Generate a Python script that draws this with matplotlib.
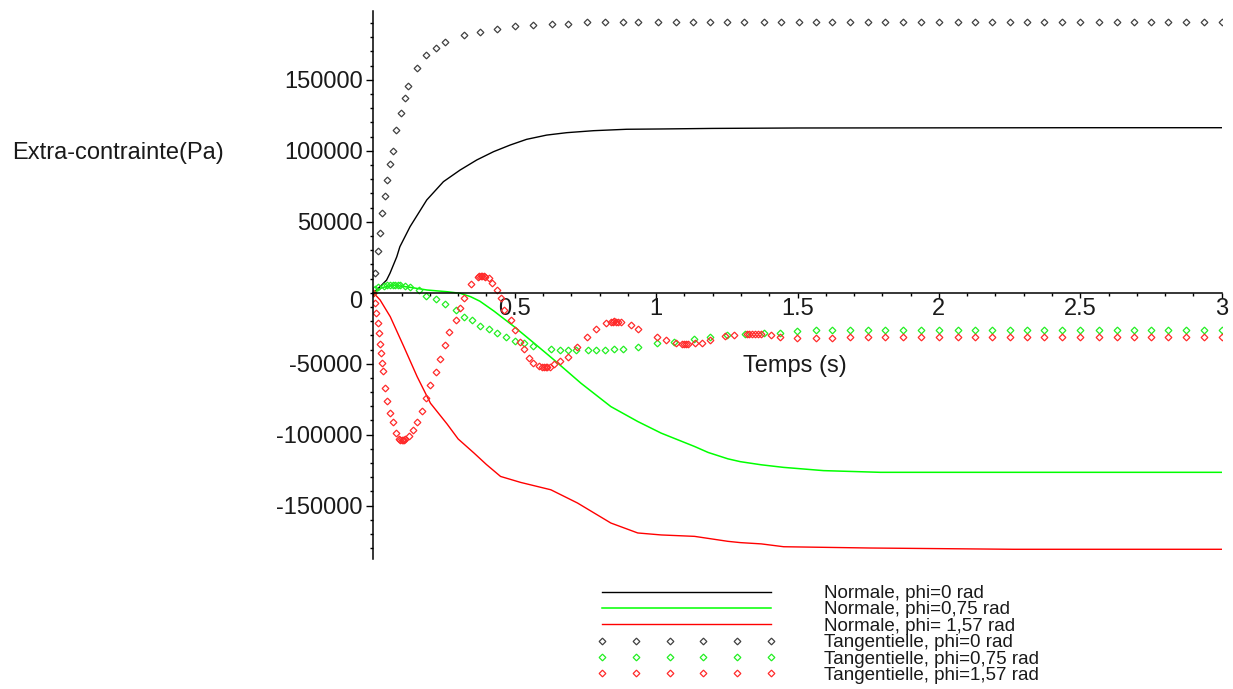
import matplotlib
matplotlib.use("Agg")
import matplotlib.pyplot as plt
from matplotlib.ticker import MultipleLocator, FixedLocator, FuncFormatter

plt.rcParams['font.family'] = ['Liberation Sans', 'DejaVu Sans']

# ---------------- data ----------------
# Normale, phi=0 rad (solid black)
t_n0 = [0, 0.024, 0.047, 0.059, 0.083, 0.094, 0.13, 0.189, 0.248, 0.307, 0.366, 0.425,
        0.484, 0.542, 0.613, 0.684, 0.779, 0.896, 1.014, 1.2, 1.5, 2.0, 2.5, 3.0]
v_n0 = [0, 4200, 8900, 13700, 25300, 32400, 46500, 65300, 78200, 86400, 93500, 99300,
        104000, 108000, 111000, 112700, 114100, 115100, 115300, 115700, 116000, 116100, 116200, 116200]

# Normale, phi=0,75 rad (solid green)
t_n1 = [0, 0.03, 0.07, 0.13, 0.19, 0.26, 0.307, 0.344, 0.377, 0.427, 0.498, 0.569, 0.639,
        0.734, 0.84, 0.935, 1.018, 1.077, 1.136, 1.184, 1.254, 1.298, 1.372, 1.45, 1.592,
        1.793, 2.0, 2.5, 3.0]
v_n1 = [0, 3500, 5400, 3800, 1900, 700, -400, -2800, -6000, -13000, -23900, -35600, -47300,
        -63700, -80200, -90700, -98900, -103600, -108300, -112500, -117000, -119000, -121200,
        -123000, -125300, -126500, -126500, -126500, -126500]

# Normale, phi= 1,57 rad (solid red)
t_n2 = [0, 0.024, 0.06, 0.108, 0.155, 0.202, 0.261, 0.3, 0.356, 0.4, 0.45, 0.521, 0.628,
        0.722, 0.84, 0.935, 1.018, 1.136, 1.254, 1.298, 1.372, 1.451, 1.757, 2.264, 3.0]
v_n2 = [0, -5100, -16900, -38000, -59100, -77800, -92500, -103000, -112900, -121000,
        -129400, -133600, -138800, -148100, -162200, -169200, -170600, -171600, -175100,
        -176000, -176900, -178900, -179800, -180700, -180700]

# Tangentielle, phi=0 rad (black diamonds)
t_t0 = [0.0, 0.007, 0.015, 0.025, 0.032, 0.043, 0.049, 0.059, 0.068, 0.080, 0.097, 0.112,
        0.124, 0.156, 0.188, 0.220, 0.252, 0.322, 0.379, 0.438, 0.500, 0.564, 0.632, 0.687,
        0.756, 0.820, 0.884, 0.936, 1.005, 1.07, 1.13, 1.19, 1.25, 1.31, 1.38, 1.44,
        1.504, 1.567, 1.622, 1.684, 1.748, 1.81, 1.873, 1.937, 1.999, 2.066, 2.128, 2.188,
        2.25, 2.311, 2.372, 2.435, 2.499, 2.565, 2.63, 2.689, 2.75, 2.81, 2.873, 2.936, 3.0]
v_t0 = [0, 14100, 29500, 42200, 56300, 68000, 79300, 90500, 99900, 114900, 126900, 137400,
        145400, 158500, 167200, 172600, 176300, 181200, 183800, 185700, 187600, 188500,
        189500, 189500, 190300, 190300, 190300, 190300, 190300, 190300, 190300, 190300,
        190300, 190300, 190300, 190300, 190300, 190300, 190300, 190300, 190300, 190300,
        190300, 190300, 190300, 190300, 190300, 190300, 190300, 190300, 190300, 190300,
        190300, 190300, 190300, 190300, 190300, 190300, 190300, 190300, 190300]

# Tangentielle, phi=0,75 rad (green diamonds)
t_t1 = [0.0, 0.007, 0.018, 0.037, 0.05, 0.06, 0.068, 0.078, 0.087, 0.096, 0.113, 0.129,
        0.161, 0.188, 0.22, 0.252, 0.291, 0.321, 0.348, 0.377, 0.409, 0.436, 0.468, 0.5,
        0.533, 0.566, 0.63, 0.66, 0.687, 0.716, 0.758, 0.787, 0.82, 0.852, 0.884, 0.935,
        1.004, 1.065, 1.134, 1.192, 1.251, 1.316, 1.381, 1.437, 1.498,
        1.567, 1.622, 1.684, 1.748, 1.81, 1.873, 1.937, 1.999, 2.066, 2.128, 2.188,
        2.25, 2.311, 2.372, 2.435, 2.499, 2.565, 2.63, 2.689, 2.75, 2.81, 2.873, 2.936, 3.0]
v_t1 = [0, 2400, 3800, 4700, 5200, 5400, 5500, 5400, 5400, 5400, 4700, 4200,
        1900, -2100, -4600, -8200, -12200, -16900, -19200, -23200, -25700, -28600, -31400, -33800,
        -35600, -37500, -39800, -40300, -40300, -40300, -40300, -40300, -40300, -39800, -39800, -38000,
        -35600, -34500, -32800, -31000, -29800, -29100, -28600, -28200, -27000,
        -26500, -26000, -26000, -26000, -26000, -26000, -26000, -26000, -26000, -26000, -26000,
        -26000, -26000, -26000, -26000, -26000, -26000, -26000, -26000, -26000, -26000, -26000, -26000, -26000]

# Tangentielle, phi=1,57 rad (red diamonds)
t_t2 = [0.0, 0.007, 0.011, 0.015, 0.019, 0.022, 0.027, 0.031, 0.034, 0.043, 0.049, 0.06,
        0.07, 0.082, 0.092, 0.096, 0.100, 0.104, 0.108, 0.113, 0.125, 0.141, 0.155, 0.173,
        0.188, 0.202, 0.22, 0.235, 0.252, 0.267, 0.291, 0.306, 0.321, 0.344, 0.370, 0.375,
        0.380, 0.385, 0.390, 0.395, 0.409, 0.42, 0.438, 0.45, 0.462, 0.486, 0.5, 0.519,
        0.533, 0.551, 0.566, 0.586, 0.598, 0.605, 0.61, 0.615, 0.625, 0.64, 0.661, 0.687,
        0.722, 0.755, 0.787, 0.823, 0.84, 0.846, 0.852, 0.858, 0.865, 0.876, 0.911, 0.935,
        1.004, 1.035, 1.071, 1.09, 1.1, 1.106, 1.112, 1.136, 1.162, 1.192, 1.245, 1.274,
        1.321, 1.33, 1.34, 1.35, 1.36, 1.37, 1.406, 1.437, 1.498,
        1.567, 1.622, 1.684, 1.748, 1.81, 1.873, 1.937, 1.999, 2.066, 2.128, 2.188,
        2.25, 2.311, 2.372, 2.435, 2.499, 2.565, 2.63, 2.689, 2.75, 2.81, 2.873, 2.936, 3.0]
v_t2 = [0, -7000, -14500, -21500, -28600, -36100, -42600, -49600, -54800, -67200, -76600, -84800,
        -91400, -98900, -103000, -103600, -103900, -103900, -103700, -103300, -100800, -96600, -91400, -83000,
        -74300, -64900, -55600, -46600, -36800, -27400, -19200, -11000, -3900, 5900, 11000, 11700,
        12000, 12000, 11800, 11300, 10100, 6600, 1900, -3900, -12200, -19200, -26200, -34500,
        -39800, -45700, -49200, -51500, -52200, -52500, -52600, -52500, -52000, -50500, -48000, -45000,
        -38400, -31400, -25700, -21500, -20600, -20300, -20200, -20300, -20500, -20800, -22700, -25500,
        -31400, -33300, -35600, -36000, -36300, -36300, -36200, -35600, -35200, -33300, -30500, -29800,
        -29200, -29000, -28900, -28900, -29000, -29100, -29800, -31400, -32100,
        -32100, -32100, -31400, -31400, -31400, -31400, -31400, -31400, -31400, -31400, -31400,
        -31400, -31400, -31400, -31400, -31400, -31400, -31400, -31400, -31400, -31400, -31400, -31400, -31400]

labels = ["Normale, phi=0 rad", "Normale, phi=0,75 rad", "Normale, phi= 1,57 rad",
          "Tangentielle, phi=0 rad", "Tangentielle, phi=0,75 rad", "Tangentielle, phi=1,57 rad"]

x_major = [0.5, 1, 1.5, 2, 2.5, 3]
x_major_labels = ["0.5", "1", "1.5", "2", "2.5", "3"]
y_major = [-150000, -100000, -50000, 50000, 100000, 150000]

# ---------------- figure ----------------
W, H = 1233, 689
fig = plt.figure(figsize=(W / 100, H / 100), dpi=100)
ax = fig.add_axes([373.3 / W, 1 - 559.3 / H, (1221.7 - 373.3) / W, (559.3 - 10.7) / H])
ax.set_xlim(0, 3)
ax.set_ylim(-187750, 198600)

txt = '#1a1a1a'
black, green, red = '#000000', '#00ff00', '#ff0000'

h1, = ax.plot(t_n0, v_n0, color=black, lw=1.0)
h2, = ax.plot(t_n1, v_n1, color=green, lw=1.1)
h3, = ax.plot(t_n2, v_n2, color=red, lw=1.0)
mk = dict(ls='none', marker='D', markersize=3.4, markerfacecolor='none', markeredgewidth=0.9)
h4, = ax.plot(t_t0, v_t0, markeredgecolor='#404040', **mk)
h5, = ax.plot(t_t1, v_t1, markeredgecolor='#22ee22', **mk)
h6, = ax.plot(t_t2, v_t2, markeredgecolor='#ff2a2a', **mk)

# spines through origin
for s in ['top', 'right']:
    ax.spines[s].set_visible(False)
ax.spines['left'].set_position(('data', 0))
ax.spines['bottom'].set_position(('data', 0))
for s in ['left', 'bottom']:
    ax.spines[s].set_linewidth(1.1)
    ax.spines[s].set_color('black')

ax.xaxis.set_major_locator(FixedLocator(x_major))
ax.set_xticklabels(x_major_labels)
ax.xaxis.set_minor_locator(MultipleLocator(0.1))
ax.yaxis.set_major_locator(FixedLocator(y_major))
ax.yaxis.set_major_formatter(FuncFormatter(lambda v, p: "%d" % v))
ax.yaxis.set_minor_locator(MultipleLocator(10000))

ax.tick_params(axis='x', which='major', direction='out', length=3.6, width=1.0, pad=0.5,
               labelsize=17, labelcolor=txt)
ax.tick_params(axis='x', which='minor', direction='out', length=2.0, width=1.0)
ax.tick_params(axis='y', which='major', direction='out', length=4.8, width=1.0, pad=2.9,
               labelsize=17, labelcolor=txt)
ax.tick_params(axis='y', which='minor', direction='out', length=2.4, width=1.0)

# "0" label on the y axis, drawn slightly below its tick as in the original
ax.annotate("0", xy=(0, 0), xycoords='data', xytext=(-10.7, -9.3), textcoords='offset pixels',
            ha='right', va='center', fontsize=17, color=txt)

fig.text(11.7 / W, 1 - 153 / H, "Extra-contrainte(Pa)", ha='left', va='center',
         fontsize=17, color=txt)
fig.text(743 / W, 1 - 366 / H, "Temps (s)", ha='left', va='center', fontsize=17, color=txt)

leg = fig.legend([h1, h2, h3, h4, h5, h6], labels, loc='upper left',
                 bbox_to_anchor=(596.6 / W, 1 - 585.0 / H), bbox_transform=fig.transFigure,
                 frameon=False, fontsize=13.5, numpoints=6, handlelength=9.6,
                 handletextpad=2.55, labelspacing=-0.04, borderpad=0, borderaxespad=0)
for t in leg.get_texts():
    t.set_color(txt)

fig.savefig("out.png", dpi=100)
